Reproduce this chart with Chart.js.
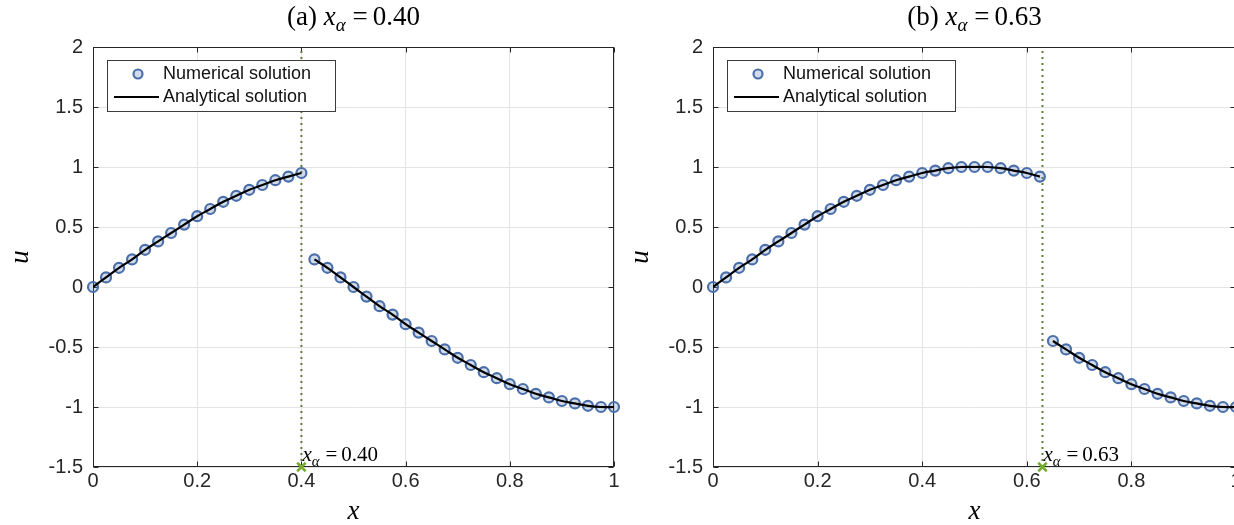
<!DOCTYPE html>
<html>
<head>
<meta charset="utf-8">
<script src="https://cdn.jsdelivr.net/npm/chart.js@4"></script>
<style>
  html, body { margin: 0; padding: 0; background: #fff; overflow: hidden; width: 1234px; height: 525px; }
  #wrapA { position: absolute; left: 0; top: 0; }
  #wrapB { position: absolute; left: 620px; top: 0; }
</style>
</head>
<body>
<div id="wrapA"><canvas id="plotA" width="625" height="525"></canvas></div>
<div id="wrapB"><canvas id="plotB" width="640" height="525"></canvas></div>
<script>
// panel (a): interface at x = 0.40
var alphaA  = 0.40;
var xLeftA  = [0, 0.025, 0.05, 0.075, 0.1, 0.125, 0.15, 0.175, 0.2, 0.225, 0.25, 0.275, 0.3, 0.325, 0.35, 0.375, 0.4];
var uLeftA  = [0, 0.08, 0.16, 0.23, 0.31, 0.38, 0.45, 0.52, 0.59, 0.65, 0.71, 0.76, 0.81, 0.85, 0.89, 0.92, 0.95];
var xRightA = [0.425, 0.45, 0.475, 0.5, 0.525, 0.55, 0.575, 0.6, 0.625, 0.65, 0.675, 0.7, 0.725, 0.75, 0.775, 0.8, 0.825, 0.85, 0.875, 0.9, 0.925, 0.95, 0.975, 1];
var uRightA = [0.23, 0.16, 0.08, 0, -0.08, -0.16, -0.23, -0.31, -0.38, -0.45, -0.52, -0.59, -0.65, -0.71, -0.76, -0.81, -0.85, -0.89, -0.92, -0.95, -0.97, -0.99, -1.00, -1.00];

// panel (b): interface at x = 0.63
var alphaB  = 0.63;
var xLeftB  = [0, 0.025, 0.05, 0.075, 0.1, 0.125, 0.15, 0.175, 0.2, 0.225, 0.25, 0.275, 0.3, 0.325, 0.35, 0.375, 0.4, 0.425, 0.45, 0.475, 0.5, 0.525, 0.55, 0.575, 0.6, 0.625];
var uLeftB  = [0, 0.08, 0.16, 0.23, 0.31, 0.38, 0.45, 0.52, 0.59, 0.65, 0.71, 0.76, 0.81, 0.85, 0.89, 0.92, 0.95, 0.97, 0.99, 1.00, 1.00, 1.00, 0.99, 0.97, 0.95, 0.92];
var xRightB = [0.65, 0.675, 0.7, 0.725, 0.75, 0.775, 0.8, 0.825, 0.85, 0.875, 0.9, 0.925, 0.95, 0.975, 1];
var uRightB = [-0.45, -0.52, -0.59, -0.65, -0.71, -0.76, -0.81, -0.85, -0.89, -0.92, -0.95, -0.97, -0.99, -1.00, -1.00];

var xTicks = [0, 0.2, 0.4, 0.6, 0.8, 1];
var yTicks = [-1.5, -1, -0.5, 0, 0.5, 1, 1.5, 2];
var legendLabels = ["Numerical solution", "Analytical solution"];

var BLUE = '#4a6fab';
var BLUE_FILL = 'rgba(74,111,171,0.25)';
var GREEN = '#77ac30';
var SERIF = '"Liberation Serif", "DejaVu Serif", serif';
var SANS = '"Liberation Sans", Arial, sans-serif';

function pts(xs, us) {
    return xs.map((x, i) => ({ x: x, y: us[i] }));
}

// draw a small run of "math" text: parts = [{t, it, sub}]
function drawMath(ctx, parts, x, y, size, align) {
    let widths = parts.map(p => {
        ctx.font = (p.it ? 'italic ' : '') + (p.sub ? size * 0.7 : size) + 'px ' + SERIF;
        return ctx.measureText(p.t).width + (p.gap || 0);
    });
    let total = widths.reduce((a, b) => a + b, 0);
    let cx = align == 'center' ? x - total / 2 : x;
    ctx.textBaseline = 'alphabetic';
    ctx.textAlign = 'left';
    ctx.fillStyle = '#000';
    parts.forEach((p, i) => {
        ctx.font = (p.it ? 'italic ' : '') + (p.sub ? size * 0.7 : size) + 'px ' + SERIF;
        ctx.fillText(p.t, cx + (p.pre || 0), p.sub ? y + size * 0.22 : y);
        cx += widths[i];
    });
}

var decoPlugin = {
    id: 'deco',
    beforeDatasetsDraw(chart) {
        let ctx = chart.ctx, a = chart.chartArea;
        let xs = chart.scales.x, ys = chart.scales.y;
        let L = Math.round(a.left) + 0.5, R = Math.round(a.right) - 0.5;
        let T = Math.round(a.top) + 0.5, B = Math.round(a.bottom) - 0.5;
        ctx.save();
        ctx.strokeStyle = '#262626';
        ctx.lineWidth = 1;
        ctx.strokeRect(L, T, R - L, B - T);
        // inward tick marks on all four sides
        ctx.beginPath();
        xTicks.forEach(v => {
            let px = Math.round(xs.getPixelForValue(v)) + 0.5;
            ctx.moveTo(px, B); ctx.lineTo(px, B - 5);
            ctx.moveTo(px, T); ctx.lineTo(px, T + 5);
        });
        yTicks.forEach(v => {
            let py = Math.round(ys.getPixelForValue(v)) + 0.5;
            ctx.moveTo(L, py); ctx.lineTo(L + 5, py);
            ctx.moveTo(R, py); ctx.lineTo(R - 5, py);
        });
        ctx.stroke();
        ctx.restore();
    },
    afterDraw(chart, args, opts) {
        let ctx = chart.ctx, a = chart.chartArea;
        let xs = chart.scales.x, ys = chart.scales.y;
        ctx.save();

        // title
        drawMath(ctx, [
            { t: '(' + opts.letter + ') ' },
            { t: 'x', it: true },
            { t: 'α', it: true, sub: true, gap: 2 },
            { t: '=', pre: 5, gap: 10 },
            { t: opts.alpha.toFixed(2) }
        ], (a.left + a.right) / 2, 25, 27, 'center');

        // interface label next to the marker
        drawMath(ctx, [
            { t: 'x', it: true },
            { t: 'α', it: true, sub: true, gap: 2 },
            { t: '=', pre: 4, gap: 8 },
            { t: opts.alpha.toFixed(2) }
        ], xs.getPixelForValue(opts.alpha) + 1, ys.getPixelForValue(-1.5) - 6, 21, 'left');

        // legend box
        let bx = a.left + 14, by = a.top + 13, bw = 228, bh = 51;
        ctx.fillStyle = '#fff';
        ctx.fillRect(bx, by, bw, bh);
        ctx.strokeStyle = '#3c3c3c';
        ctx.lineWidth = 1;
        ctx.strokeRect(Math.round(bx) + 0.5, Math.round(by) + 0.5, bw, bh);

        let r1 = by + 14, r2 = by + 37;
        ctx.beginPath();
        ctx.arc(bx + 31, r1, 4.5, 0, Math.PI * 2);
        ctx.fillStyle = BLUE_FILL;
        ctx.fill();
        ctx.strokeStyle = BLUE;
        ctx.lineWidth = 2.2;
        ctx.stroke();

        ctx.beginPath();
        ctx.moveTo(bx + 7, r2);
        ctx.lineTo(bx + 52, r2);
        ctx.strokeStyle = '#000';
        ctx.lineWidth = 2;
        ctx.stroke();

        ctx.font = '18px ' + SANS;
        ctx.fillStyle = '#111';
        ctx.textAlign = 'left';
        ctx.textBaseline = 'middle';
        ctx.fillText(legendLabels[0], bx + 56, r1);
        ctx.fillText(legendLabels[1], bx + 56, r2);
        ctx.restore();
    }
};

function makeChart(id, letter, alpha, xl, ul, xr, ur, padRight) {
    let analytic = { borderColor: '#000', borderWidth: 2.2, pointRadius: 0, tension: 0.4, fill: false, order: 0 };
    let numeric = {
        showLine: false, pointRadius: 5, pointBorderWidth: 2.2,
        pointBorderColor: BLUE, pointBackgroundColor: BLUE_FILL, clip: false, order: 1
    };
    return new Chart(document.getElementById(id), {
        type: 'line',
        data: {
            datasets: [
                Object.assign({ label: legendLabels[1], data: pts(xl, ul) }, analytic),
                Object.assign({ label: legendLabels[1], data: pts(xr, ur) }, analytic),
                Object.assign({ label: legendLabels[0], data: pts(xl, ul) }, numeric),
                Object.assign({ label: legendLabels[0], data: pts(xr, ur) }, numeric),
                {
                    label: 'interface', data: [{ x: alpha, y: -1.5 }, { x: alpha, y: 2 }],
                    borderColor: '#5f7d3c', borderWidth: 2, borderDash: [2, 4], pointRadius: 0, order: 2
                },
                {
                    label: 'marker', data: [{ x: alpha, y: -1.5 }], showLine: false,
                    pointStyle: 'crossRot', pointRadius: 6, pointBorderWidth: 2.5,
                    pointBorderColor: GREEN, clip: false, order: -1
                }
            ]
        },
        options: {
            responsive: false,
            animation: false,
            layout: { padding: { left: 0, top: 47, right: padRight, bottom: 0 } },
            scales: {
                x: {
                    type: 'linear', min: 0, max: 1,
                    afterBuildTicks: s => { s.ticks = xTicks.map(v => ({ value: v })); },
                    afterFit: s => { s.height = 58; },
                    grid: { color: '#e4e4e4', drawTicks: false },
                    border: { display: false },
                    ticks: {
                        font: { family: SANS, size: 20 }, color: '#262626', padding: 2,
                        maxRotation: 0, autoSkip: false, callback: v => String(v)
                    },
                    title: {
                        display: true, text: 'x', color: '#000', padding: { top: 0, bottom: 0 },
                        font: { family: SERIF, style: 'italic', size: 27, lineHeight: 1.0 }
                    }
                },
                y: {
                    type: 'linear', min: -1.5, max: 2,
                    afterBuildTicks: s => { s.ticks = yTicks.map(v => ({ value: v })); },
                    afterFit: s => { s.width = 93; },
                    grid: { color: '#e4e4e4', drawTicks: false },
                    border: { display: false },
                    ticks: {
                        font: { family: SANS, size: 20 }, color: '#262626', padding: 10,
                        autoSkip: false, callback: v => String(v)
                    },
                    title: {
                        display: true, text: 'u', color: '#000', padding: { top: 7, bottom: 0 },
                        font: { family: SERIF, style: 'italic', size: 27, lineHeight: 1.0 }
                    }
                }
            },
            plugins: {
                legend: { display: false },
                tooltip: { enabled: false },
                deco: { letter: letter, alpha: alpha }
            }
        },
        plugins: [decoPlugin]
    });
}

makeChart('plotA', 'a', alphaA, xLeftA, uLeftA, xRightA, uRightA, 11);
makeChart('plotB', 'b', alphaB, xLeftB, uLeftB, xRightB, uRightB, 24);
</script>
</body>
</html>
